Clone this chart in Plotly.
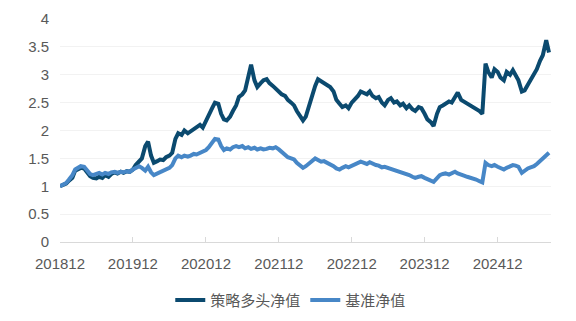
import pandas as pd
import plotly.graph_objects as go

# semi-monthly observation dates (1st and 15th of each month), Dec 2018 .. Aug 2025
months = pd.period_range("2018-12", "2025-08", freq="M")
dates = []
for m in months:
    dates.append(m.to_timestamp())
    dates.append(m.to_timestamp() + pd.Timedelta(days=14))

strategy = [
    1.00, 1.02,
    1.05, 1.10, 1.15, 1.28, 1.30, 1.33, 1.32, 1.26, 1.18, 1.15, 1.14, 1.17,
    1.15, 1.20, 1.17, 1.22, 1.25, 1.23, 1.26, 1.24, 1.27, 1.26, 1.30, 1.38,
    1.45, 1.50, 1.72, 1.80, 1.55, 1.42, 1.45, 1.48, 1.47, 1.52, 1.55, 1.60,
    1.85, 1.95, 1.92, 2.00, 1.95, 1.98, 2.02, 2.05, 2.10, 2.05, 2.18, 2.28,
    2.40, 2.50, 2.48, 2.30, 2.20, 2.18, 2.25, 2.35, 2.45, 2.60, 2.65, 2.72,
    2.95, 3.18, 2.90, 2.78, 2.85, 2.90, 2.92, 2.85, 2.80, 2.75, 2.70, 2.65,
    2.62, 2.55, 2.50, 2.45, 2.35, 2.28, 2.18, 2.25, 2.45, 2.60, 2.80, 2.92,
    2.88, 2.85, 2.82, 2.78, 2.70, 2.55, 2.48, 2.42, 2.45, 2.40, 2.50, 2.55,
    2.62, 2.70, 2.68, 2.65, 2.70, 2.62, 2.58, 2.60, 2.50, 2.45, 2.55, 2.58,
    2.50, 2.52, 2.45, 2.48, 2.40, 2.45, 2.38, 2.35, 2.42, 2.40, 2.30, 2.20,
    2.15, 2.08, 2.30, 2.42, 2.45, 2.48, 2.52, 2.50, 2.60, 2.68, 2.55, 2.52,
    2.48, 2.45, 2.40, 2.38, 2.35, 2.30, 3.20, 3.05, 2.95, 3.10, 3.05, 2.95,
    2.90, 3.05, 3.00, 3.08, 2.98, 2.90, 2.70, 2.72, 2.82, 2.90, 3.00, 3.10,
    3.25, 3.35, 3.62, 3.40,
]

benchmark = [
    1.00, 1.03,
    1.06, 1.12, 1.20, 1.30, 1.34, 1.36, 1.35, 1.28, 1.22, 1.20, 1.22, 1.24,
    1.21, 1.24, 1.22, 1.25, 1.26, 1.24, 1.26, 1.25, 1.27, 1.26, 1.30, 1.32,
    1.36, 1.33, 1.28, 1.35, 1.25, 1.20, 1.23, 1.26, 1.28, 1.30, 1.33, 1.38,
    1.50, 1.55, 1.52, 1.55, 1.53, 1.55, 1.58, 1.57, 1.60, 1.63, 1.65, 1.70,
    1.78, 1.85, 1.84, 1.72, 1.65, 1.68, 1.66, 1.70, 1.72, 1.70, 1.72, 1.68,
    1.70, 1.67, 1.69, 1.66, 1.68, 1.66, 1.67, 1.69, 1.68, 1.70, 1.66, 1.62,
    1.57, 1.52, 1.50, 1.48, 1.42, 1.38, 1.33, 1.36, 1.40, 1.45, 1.50, 1.47,
    1.44, 1.45, 1.42, 1.40, 1.36, 1.32, 1.30, 1.33, 1.36, 1.34, 1.37, 1.39,
    1.42, 1.44, 1.42, 1.40, 1.43, 1.40, 1.38, 1.37, 1.34, 1.35, 1.33, 1.31,
    1.30, 1.28, 1.26, 1.24, 1.22, 1.20, 1.17, 1.15, 1.17, 1.18, 1.15, 1.12,
    1.10, 1.08, 1.15, 1.20, 1.22, 1.23, 1.21, 1.24, 1.26, 1.23, 1.20, 1.19,
    1.17, 1.16, 1.14, 1.12, 1.09, 1.07, 1.42, 1.38, 1.36, 1.38, 1.35, 1.33,
    1.30, 1.33, 1.36, 1.38, 1.37, 1.35, 1.24, 1.28, 1.32, 1.34, 1.36, 1.40,
    1.45, 1.50, 1.55, 1.60,
]

tick_dates = ["2018-12-01", "2019-12-01", "2020-12-01", "2021-12-01",
              "2022-12-01", "2023-12-01", "2024-12-01"]
tick_labels = ["201812", "201912", "202012", "202112", "202212", "202312", "202412"]
y_ticks = [0, 0.5, 1, 1.5, 2, 2.5, 3, 3.5, 4]
y_labels = ["0", "0.5", "1", "1.5", "2", "2.5", "3", "3.5", "4"]

n = min(len(dates), len(strategy), len(benchmark))
dates = dates[:n]

DARK = "#0B4A6F"
LIGHT = "#4787C7"
FONT = "Liberation Sans, Arial, Noto Sans CJK SC, sans-serif"

fig = go.Figure()
fig.add_trace(go.Scatter(x=dates, y=strategy[:n], mode="lines", name="策略多头净值",
                         line=dict(color=DARK, width=4)))
fig.add_trace(go.Scatter(x=dates, y=benchmark[:n], mode="lines", name="基准净值",
                         line=dict(color=LIGHT, width=4)))

fig.update_layout(
    width=576, height=321,
    margin=dict(l=60, r=25, t=19, b=79, autoexpand=False),
    paper_bgcolor="white", plot_bgcolor="white",
    font=dict(family=FONT, size=15, color="#595959"),
    showlegend=True,
    legend=dict(orientation="h", x=0.47, xanchor="center",
                yref="container", y=0.065, yanchor="middle",
                font=dict(size=15, color="#595959"), itemwidth=30,
                tracegroupgap=0),
)
fig.update_xaxes(
    type="date", range=["2018-12-01", "2025-08-25"],
    tickmode="array", tickvals=tick_dates, ticktext=tick_labels,
    showgrid=False, showline=True, linecolor="#D9D9D9", linewidth=1,
    ticks="inside", ticklen=5, tickcolor="#D9D9D9",
    ticklabelstandoff=8, automargin=False,
    tickfont=dict(size=15, color="#595959"), zeroline=False,
)
fig.update_yaxes(
    range=[0, 4], tickmode="array", tickvals=y_ticks, ticktext=y_labels,
    showgrid=True, gridcolor="#F2F2F2", gridwidth=1, zeroline=False,
    showline=False, ticks="", ticklabelstandoff=10, automargin=False,
    tickfont=dict(size=15, color="#595959"),
)

fig.write_html("out.html")
